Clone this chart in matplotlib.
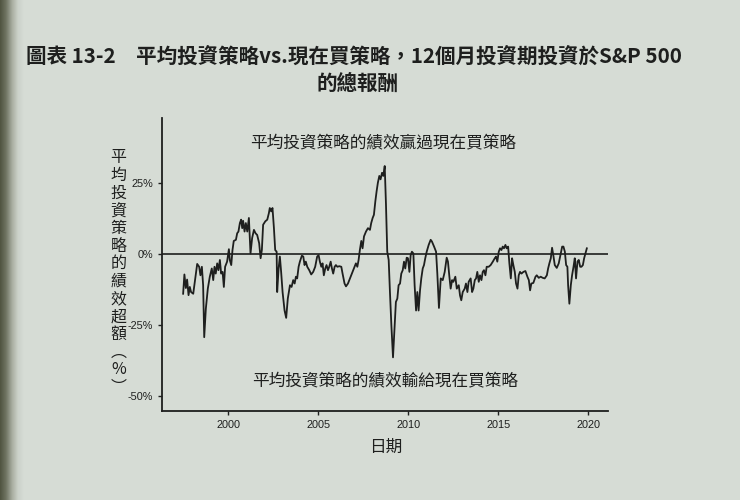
import numpy as np
import matplotlib.pyplot as plt
import matplotlib.ticker as mticker
from matplotlib.colors import LinearSegmentedColormap

plt.rcParams['font.family'] = ['Noto Sans CJK TC', 'DejaVu Sans']

# excess return of the averaging strategy over buy-now, in %
years = [
    1997.50, 1997.57, 1997.65, 1997.72, 1997.80, 1997.87, 1997.94, 1998.06, 1998.17, 1998.28,
    1998.39, 1998.46, 1998.54, 1998.61, 1998.67, 1998.76, 1998.87, 1998.98, 1999.09, 1999.17,
    1999.24, 1999.31, 1999.39, 1999.46, 1999.54, 1999.61, 1999.69, 1999.76, 1999.83, 1999.94,
    2000.04, 2000.09, 2000.17, 2000.24, 2000.31, 2000.43, 2000.50, 2000.57, 2000.65, 2000.72,
    2000.78, 2000.83, 2000.91, 2000.98, 2001.06, 2001.15, 2001.24, 2001.33, 2001.43, 2001.52,
    2001.61, 2001.72, 2001.80, 2001.87, 2001.94, 2002.06, 2002.17, 2002.26, 2002.31, 2002.39,
    2002.46, 2002.54, 2002.61, 2002.69, 2002.72, 2002.80, 2002.87, 2002.94, 2003.02, 2003.13,
    2003.22, 2003.31, 2003.43, 2003.52, 2003.61, 2003.69, 2003.76, 2003.83, 2003.91, 2003.98,
    2004.09, 2004.17, 2004.24, 2004.31, 2004.39, 2004.50, 2004.61, 2004.72, 2004.83, 2004.94,
    2005.02, 2005.09, 2005.17, 2005.24, 2005.31, 2005.39, 2005.46, 2005.54, 2005.61, 2005.69,
    2005.76, 2005.83, 2005.91, 2005.98, 2006.06, 2006.17, 2006.28, 2006.35, 2006.46, 2006.54,
    2006.65, 2006.76, 2006.87, 2006.98, 2007.09, 2007.17, 2007.24, 2007.31, 2007.39, 2007.46,
    2007.54, 2007.65, 2007.76, 2007.87, 2007.94, 2008.02, 2008.09, 2008.17, 2008.24, 2008.31,
    2008.39, 2008.46, 2008.54, 2008.61, 2008.69, 2008.76, 2008.83, 2008.91, 2008.98, 2009.06,
    2009.15, 2009.24, 2009.31, 2009.39, 2009.46, 2009.54, 2009.61, 2009.69, 2009.76, 2009.83,
    2009.91, 2009.98, 2010.06, 2010.13, 2010.20, 2010.28, 2010.35, 2010.43, 2010.50, 2010.57,
    2010.65, 2010.72, 2010.80, 2010.87, 2010.94, 2011.02, 2011.13, 2011.24, 2011.31, 2011.43,
    2011.54, 2011.61, 2011.70, 2011.80, 2011.91, 2012.02, 2012.13, 2012.20, 2012.28, 2012.35,
    2012.43, 2012.50, 2012.61, 2012.69, 2012.80, 2012.87, 2012.94, 2013.02, 2013.13, 2013.20,
    2013.28, 2013.35, 2013.46, 2013.54, 2013.61, 2013.69, 2013.76, 2013.83, 2013.91, 2013.98,
    2014.06, 2014.13, 2014.20, 2014.28, 2014.35, 2014.46, 2014.57, 2014.69, 2014.80, 2014.87,
    2014.94, 2015.02, 2015.09, 2015.17, 2015.24, 2015.31, 2015.39, 2015.46, 2015.54, 2015.61,
    2015.69, 2015.76, 2015.83, 2015.91, 2015.98, 2016.06, 2016.13, 2016.20, 2016.28, 2016.39,
    2016.50, 2016.61, 2016.69, 2016.76, 2016.83, 2016.94, 2017.06, 2017.13, 2017.24, 2017.35,
    2017.46, 2017.57, 2017.69, 2017.76, 2017.83, 2017.91, 2017.98, 2018.06, 2018.13, 2018.24,
    2018.35, 2018.46, 2018.54, 2018.61, 2018.69, 2018.76, 2018.83, 2018.87, 2018.94, 2019.02,
    2019.09, 2019.17, 2019.24, 2019.31, 2019.39, 2019.46, 2019.54, 2019.61, 2019.69, 2019.76,
    2019.83, 2019.91,
]
excess = [
    -14.0, -7.2, -12.0, -9.0, -14.5, -11.6, -13.4, -14.0, -8.6, -3.5,
    -4.5, -7.5, -4.5, -11.0, -29.3, -19.3, -12.2, -8.0, -5.1, -9.2,
    -4.5, -6.9, -3.3, -5.7, -2.1, -6.9, -6.3, -11.6, -4.5, -2.7,
    1.7, -2.1, -3.9, 1.4, 4.6, 5.0, 7.3, 7.9, 10.9, 12.1,
    9.1, 11.7, 7.9, 10.9, 7.9, 12.7, 0.2, 5.6, 8.5, 7.3,
    6.7, 3.8, -1.5, 1.4, 10.3, 11.5, 12.1, 14.4, 16.2, 15.0,
    16.2, 9.1, 1.4, 0.8, -13.4, -5.1, -0.9, -6.3, -13.4, -19.9,
    -22.5, -15.7, -11.0, -11.6, -9.2, -10.4, -8.0, -8.6, -4.5, -2.7,
    -0.6, -0.9, -3.9, -2.7, -4.5, -5.7, -7.2, -6.3, -4.5, -0.9,
    -0.4, -2.7, -4.5, -3.3, -7.5, -5.1, -3.9, -5.7, -4.5, -2.7,
    -5.1, -6.9, -4.5, -3.9, -4.5, -4.3, -4.5, -6.9, -10.4, -11.4,
    -10.4, -8.6, -6.9, -5.1, -3.3, -4.5, -2.1, 1.4, 4.6, 2.0,
    6.2, 7.9, 9.1, 8.5, 10.9, 12.7, 13.8, 18.6, 22.1, 25.1,
    27.5, 26.3, 28.6, 27.5, 31.0, 17.4, 0.8, -2.1, -13.4, -25.2,
    -36.4, -25.2, -16.9, -15.7, -11.0, -10.4, -6.9, -5.7, -2.7, -5.1,
    -1.3, -1.5, -6.3, -0.4, 0.8, 0.2, -11.0, -19.9, -13.4, -19.9,
    -12.8, -8.6, -5.1, -3.9, -1.5, 0.8, 3.2, 5.0, 4.4, 2.6,
    0.8, -6.9, -19.0, -8.6, -9.2, -6.3, -1.3, -2.7, -8.0, -12.2,
    -9.2, -9.8, -8.0, -12.2, -11.0, -14.6, -16.3, -13.4, -12.2, -10.4,
    -13.4, -9.8, -8.6, -13.4, -12.2, -9.2, -8.6, -6.3, -9.8, -7.5,
    -9.2, -6.3, -5.7, -7.5, -4.5, -4.5, -3.9, -2.7, -1.5, -0.9,
    -2.7, 0.8, 2.0, 1.4, 2.6, 2.0, 3.2, 2.0, 2.6, -3.3,
    -8.6, -1.5, -3.9, -6.3, -10.4, -12.2, -7.5, -6.3, -6.9, -6.3,
    -6.0, -8.0, -9.2, -12.8, -10.4, -10.2, -8.0, -7.5, -8.4, -8.0,
    -8.4, -8.6, -7.5, -5.1, -3.3, -1.5, 2.2, -0.9, -3.9, -4.9,
    -3.3, 0.2, 2.6, 2.6, 0.8, -3.9, -4.5, -11.0, -17.5, -11.0,
    -7.5, -4.5, -1.5, -8.6, -2.7, -2.1, -4.5, -4.5, -3.9, -1.5,
    0.2, 2.0,
]

year_ticks = [2000, 2005, 2010, 2015, 2020]
pct_ticks = [-50, -25, 0, 25]

title_1 = '圖表 13-2　平均投資策略vs.現在買策略，12個月投資期投資於S&P 500'
title_2 = '的總報酬'
ylabel = '平均投資策略的績效超額︵%︶'
note_win = '平均投資策略的績效贏過現在買策略'
note_lose = '平均投資策略的績效輸給現在買策略'

paper = '#d6dcd5'
ink = '#1e1f1e'

fig = plt.figure(figsize=(7.4, 5), dpi=100, facecolor=paper)

# dark page gutter on the left edge of the photo
gutter = fig.add_axes([0, 0, 0.032, 1])
gutter.imshow(np.linspace(0, 1, 128)[None, :], aspect='auto', interpolation='bilinear',
              cmap=LinearSegmentedColormap.from_list(
                  'g', ['#4f533f', '#6f7462', '#a7ac9f', '#cbd1c9', paper]))
gutter.axis('off')

ax = fig.add_axes([0.219, 0.178, 0.603, 0.586], facecolor='none')

ax.plot(years, excess, color=ink, linewidth=1.3)
ax.axhline(0, color=ink, linewidth=1.2)

ax.set_xlim(1996.33, 2021.1)
ax.set_ylim(-55.3, 47.9)
ax.set_xticks(year_ticks)
ax.set_yticks(pct_ticks)
ax.yaxis.set_major_formatter(mticker.FuncFormatter(lambda v, p: f'{v:.0f}%'))

for s in ['top', 'right']:
    ax.spines[s].set_visible(False)
for s in ['left', 'bottom']:
    ax.spines[s].set_color(ink)
    ax.spines[s].set_linewidth(1.3)

ax.tick_params(axis='both', colors=ink, labelsize=7.8, length=3, width=1)
for lab in ax.get_xticklabels() + ax.get_yticklabels():
    lab.set_family(['Liberation Sans', 'DejaVu Sans'])

ax.set_xlabel('日期', fontsize=12, color=ink, labelpad=6)

fig.text(0.16, 0.455, '\n'.join(ylabel), fontsize=11.5, color=ink,
         ha='center', va='center', linespacing=1.05)

ax.text(0.495, 0.915, note_win, transform=ax.transAxes, fontsize=12,
        color=ink, ha='center', va='center')
ax.text(0.5, 0.103, note_lose, transform=ax.transAxes, fontsize=12,
        color=ink, ha='center', va='center')

fig.text(0.478, 0.888, title_1, fontsize=14.8, fontweight='bold', color=ink,
         ha='center', va='center')
fig.text(0.483, 0.834, title_2, fontsize=14.8, fontweight='bold', color=ink,
         ha='center', va='center')

fig.savefig('out.png', dpi=100, facecolor=paper)
